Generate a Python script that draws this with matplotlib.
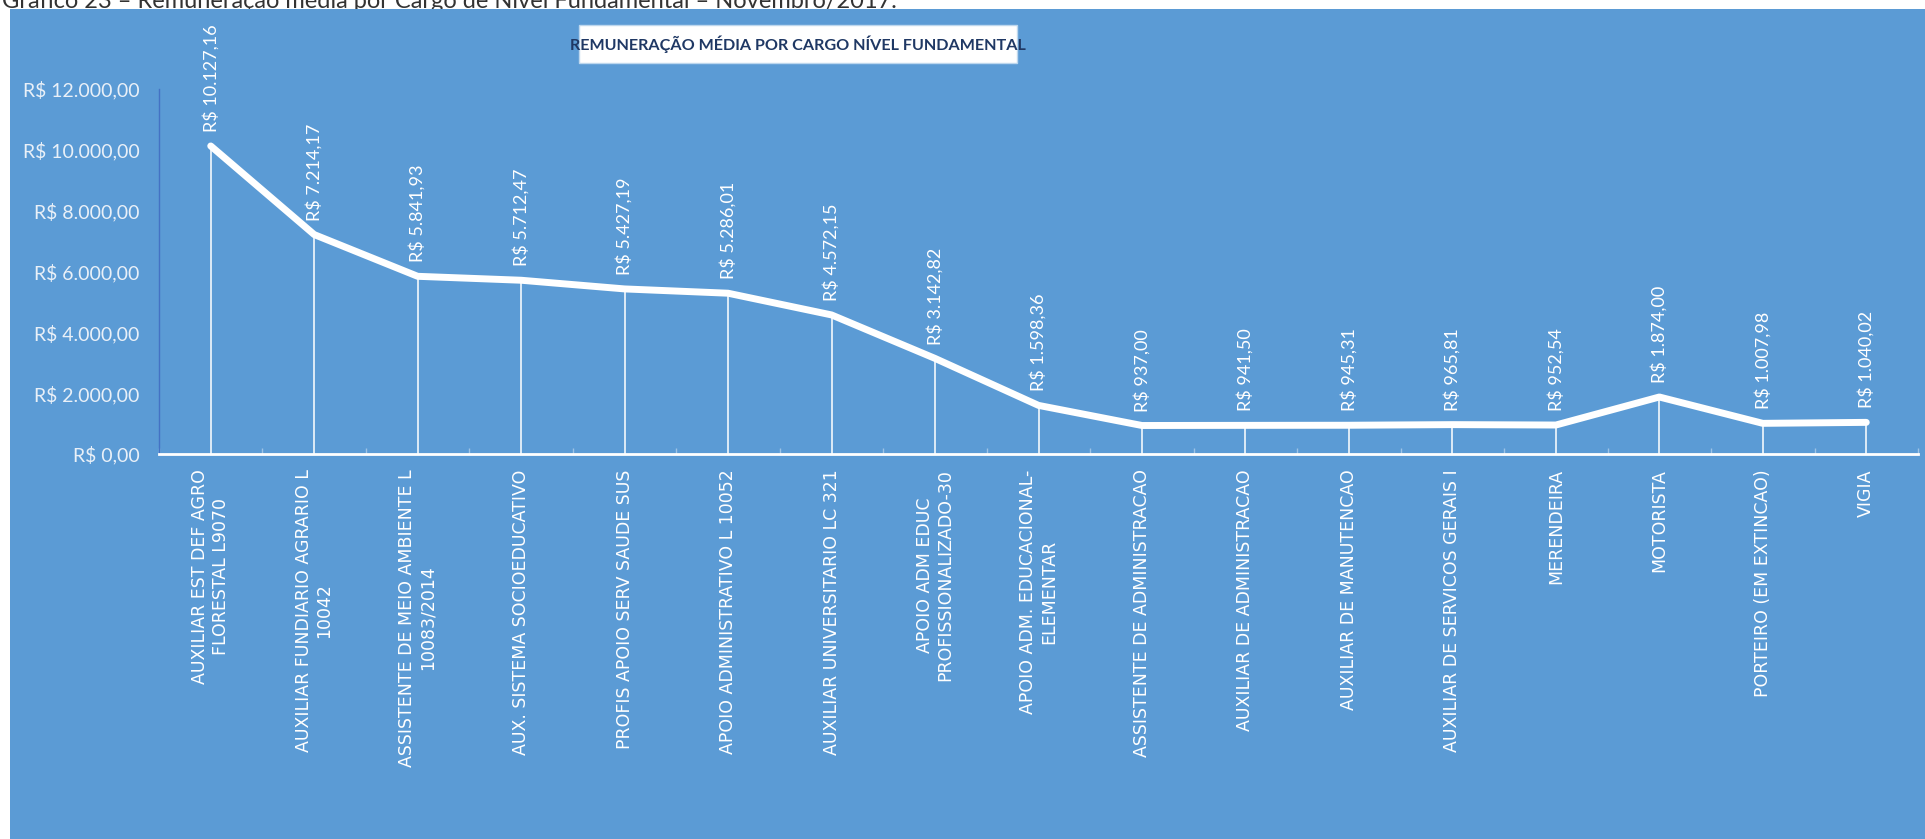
#!/usr/bin/env python3
"""Remuneração média por cargo - nível fundamental (line chart, Excel style)."""

import matplotlib
matplotlib.use('Agg')
import matplotlib.pyplot as plt
from matplotlib.patches import Rectangle

cargos = [
    "AUXILIAR EST DEF AGRO\nFLORESTAL L9070",
    "AUXILIAR FUNDIARIO AGRARIO L\n10042",
    "ASSISTENTE DE MEIO AMBIENTE L\n10083/2014",
    "AUX. SISTEMA SOCIOEDUCATIVO",
    "PROFIS APOIO SERV SAUDE SUS",
    "APOIO ADMINISTRATIVO L 10052",
    "AUXILIAR UNIVERSITARIO LC 321",
    "APOIO ADM EDUC\nPROFISSIONALIZADO-30",
    "APOIO ADM. EDUCACIONAL-\nELEMENTAR",
    "ASSISTENTE DE ADMINISTRACAO",
    "AUXILIAR DE ADMINISTRACAO",
    "AUXILIAR DE MANUTENCAO",
    "AUXILIAR DE SERVICOS GERAIS I",
    "MERENDEIRA",
    "MOTORISTA",
    "PORTEIRO (EM EXTINCAO)",
    "VIGIA",
]
remuneracao = [10127.16, 7214.17, 5841.93, 5712.47, 5427.19, 5286.01, 4572.15,
               3142.82, 1598.36, 937.00, 941.50, 945.31, 965.81, 952.54,
               1874.00, 1007.98, 1040.02]
y_ticks = [0, 2000, 4000, 6000, 8000, 10000, 12000]

titulo = "REMUNERAÇÃO MÉDIA POR CARGO NÍVEL FUNDAMENTAL"
legenda_topo = "Gráfico 23 – Remuneração média por Cargo de Nível Fundamental – Novembro/2017."

BLUE = '#5B9BD5'
W, H = 1925, 839


def brl(v):
    s = f"{v:,.2f}"
    return "R$ " + s.replace(",", "X").replace(".", ",").replace("X", ".")


plt.rcParams['font.family'] = ['Lato', 'DejaVu Sans']

fig = plt.figure(figsize=(W / 100, H / 100), dpi=100)
fig.patch.set_facecolor('white')

# caption at the very top (cut off in the original)
fig.text(2 / W, 1 - 8 / H, legenda_topo, ha='left', va='baseline',
         fontsize=17, color='#333333', zorder=-2)

# blue chart area
fig.add_artist(Rectangle((10 / W, 0), 1 - 10 / W, 1 - 9 / H,
                         transform=fig.transFigure, facecolor=BLUE,
                         edgecolor='none', zorder=-1))

# title box
fig.add_artist(Rectangle((579 / W, 1 - 63 / H), 438 / W, 38 / H,
                         transform=fig.transFigure, facecolor='white',
                         edgecolor='#BDD7EE', lw=1, zorder=1))
fig.text(798 / W, 1 - 44 / H, titulo, ha='center', va='center',
         fontsize=11.6, fontweight='bold', color='#1F3864')

ax = fig.add_axes([159 / W, 1 - 454 / H, (1918 - 159) / W, (454 - 89) / H])
ax.set_facecolor('none')

x = list(range(len(cargos)))
ax.vlines(x, 0, remuneracao, colors='white', lw=1.3, alpha=0.85, zorder=2)
ax.plot(x, remuneracao, color='white', lw=5, solid_joinstyle='round',
        solid_capstyle='round', zorder=3)

for xi, v in zip(x, remuneracao):
    ax.annotate(brl(v), (xi, v), xytext=(0, 10), textcoords='offset points',
                rotation=90, ha='center', va='bottom', fontsize=13,
                color='white', zorder=4)

ax.set_xlim(-0.5, len(cargos) - 0.5)
ax.set_ylim(0, 12000)
ax.set_yticks(y_ticks)
ax.set_yticklabels([brl(t) for t in y_ticks], fontsize=14, color='#E9F0F8')
ax.tick_params(axis='y', length=0, pad=14)

ax.set_xticks(x)
ax.set_xticklabels(cargos, rotation=90, fontsize=12.5, color='white',
                   family='DejaVu Sans')
for t in ax.get_xticklabels():
    t.set_multialignment('center')
ax.tick_params(axis='x', which='major', length=0, pad=11)
ax.set_xticks([i + 0.5 for i in range(-1, len(cargos))], minor=True)
ax.tick_params(axis='x', which='minor', direction='in', length=4,
               color='#9DC3E6', width=1)

for side in ('top', 'right'):
    ax.spines[side].set_visible(False)
ax.spines['left'].set_color('#4472C4')
ax.spines['left'].set_linewidth(1)
ax.spines['bottom'].set_color('white')
ax.spines['bottom'].set_linewidth(2)

fig.savefig('out.png', dpi=100, facecolor='white')
